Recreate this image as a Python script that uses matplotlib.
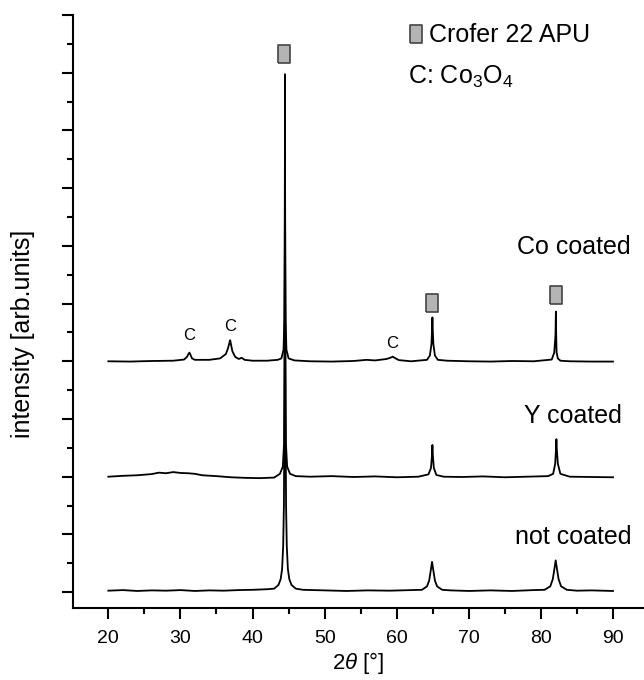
import numpy as np
import matplotlib.pyplot as plt
from matplotlib.ticker import MultipleLocator

plt.rcParams['font.family'] = ['Liberation Sans', 'DejaVu Sans']
plt.rcParams['mathtext.fontset'] = 'custom'
plt.rcParams['mathtext.rm'] = 'Liberation Sans'
plt.rcParams['mathtext.it'] = 'Liberation Sans:italic'
plt.rcParams['mathtext.default'] = 'regular'

# not coated (baseline 0)
nc_x = [20, 22, 24, 26, 28, 30, 32, 34, 36, 38, 40, 42, 43, 43.6, 43.9, 44.1, 44.25, 44.35, 44.42, 44.5,
        44.58, 44.65, 44.75, 44.9, 45.1, 45.4, 46, 47,
        50, 53, 56, 59, 62, 63.5, 64.2, 64.5, 64.75, 64.9, 65.05, 65.3, 65.6, 66.3, 67.5,
        70, 73, 76, 79, 80.5, 81.3, 81.65, 81.9, 82.05, 82.2, 82.45, 82.8, 83.6, 85, 87, 90]
nc_y = [0.05, 0.07, 0.04, 0.06, 0.05, 0.07, 0.04, 0.06, 0.05, 0.07, 0.08, 0.1, 0.12, 0.25, 0.45, 0.8, 1.6, 3.0, 6.0, 12.6,
        6.0, 3.0, 1.6, 0.8, 0.45, 0.25, 0.12, 0.08,
        0.06, 0.04, 0.06, 0.05, 0.07, 0.08, 0.2, 0.4, 0.8, 1.05, 0.8, 0.4, 0.2, 0.08, 0.06,
        0.04, 0.06, 0.04, 0.07, 0.08, 0.2, 0.45, 0.85, 1.1, 0.85, 0.45, 0.2, 0.08, 0.05, 0.06, 0.04]

# Y coated (baseline 4)
yc_x = [20, 22, 24, 26, 27, 28, 29, 30, 31, 32, 33, 35, 37, 39, 41, 43, 43.8, 44.2, 44.38, 44.45, 44.5,
        44.55, 44.62, 44.8, 45.2, 46,
        48, 51, 54, 57, 60, 63, 64.4, 64.75, 64.88, 64.95, 65.02, 65.15, 65.5, 66.5,
        69, 72, 75, 78, 81, 81.7, 81.98, 82.08, 82.15, 82.22, 82.35, 82.7, 84, 87, 90]
yc_y = [4.0, 4.03, 4.05, 4.09, 4.14, 4.12, 4.16, 4.13, 4.12, 4.1, 4.05, 4.02, 3.98, 3.96, 3.95, 3.97, 4.1, 4.35, 5.2, 8.0, 17.0,
        8.0, 5.2, 4.35, 4.1, 4.02,
        4.0, 4.02, 3.99, 4.01, 3.98, 4.0, 4.08, 4.3, 4.7, 5.1, 4.7, 4.3, 4.06, 4.0,
        3.99, 4.01, 3.98, 4.0, 4.02, 4.1, 4.45, 4.9, 5.3, 4.9, 4.45, 4.1, 4.0, 3.99, 3.98]

# Co coated (baseline 8)
cc_x = [20, 23, 26, 29, 30.5, 30.9, 31.1, 31.25, 31.4, 31.6, 32, 34, 35.5, 36.3, 36.6, 36.8, 36.9, 37.0, 37.2, 37.6, 38.1, 38.5, 38.9,
        40, 42, 43.5, 44.0, 44.3, 44.42, 44.48, 44.5, 44.52, 44.58, 44.7, 45.0, 45.8,
        48, 51, 54, 55.8, 57, 58.6, 59.2, 59.45, 59.7, 60.3, 62, 64.2, 64.6, 64.82, 64.9, 64.95, 65.0, 65.08, 65.3, 65.7,
        67, 70, 73, 76, 79, 81.5, 81.85, 82.02, 82.08, 82.12, 82.18, 82.35, 82.7, 84, 87, 90]
cc_y = [8.0, 7.99, 8.01, 8.02, 8.06, 8.15, 8.25, 8.3, 8.22, 8.1, 8.05, 8.05, 8.1, 8.25, 8.45, 8.65, 8.73, 8.6, 8.35, 8.15, 8.08, 8.12, 8.05,
        8.02, 8.02, 8.05, 8.1, 8.4, 9.5, 13.0, 17.95, 13.0, 9.5, 8.4, 8.1, 8.03,
        8.0, 7.99, 8.01, 8.05, 8.03, 8.08, 8.13, 8.16, 8.12, 8.04, 8.0, 8.05, 8.2, 8.6, 9.1, 9.52, 9.1, 8.6, 8.2, 8.05,
        8.02, 8.0, 7.99, 8.01, 8.0, 8.06, 8.3, 8.9, 9.72, 8.9, 8.3, 8.1, 8.02, 8.0, 7.99, 7.99]

# peak markers for Crofer 22 APU
mark_x = [44.4, 64.9, 82.1]
mark_y = [18.65, 10.02, 10.3]

# Co3O4 labels
c_x = [31.2, 36.9, 59.4]
c_y = [8.9, 9.22, 8.63]

label_x = 84.5
label_y = [11.96, 6.1, 1.91]
label_txt = ['Co coated', 'Y coated', 'not coated']

fig = plt.figure(figsize=(6.44, 6.8), dpi=100)
ax = fig.add_axes([0.1134, 0.1059, 0.8866, 0.872])

for xs, ys in [(nc_x, nc_y), (yc_x, yc_y), (cc_x, cc_y)]:
    ax.plot(xs, ys, color='black', lw=1.3)

rect = [(-0.33, -0.5), (0.33, -0.5), (0.33, 0.5), (-0.33, 0.5), (-0.33, -0.5)]
ax.plot(mark_x, mark_y, ls='none', marker=rect, ms=13, mfc='#b4b4b4', mec='#444444', mew=1.2)
ax.plot([62.7], [19.35], ls='none', marker=rect, ms=13, mfc='#b4b4b4', mec='#444444', mew=1.2)
ax.text(64.5, 19.3, 'Crofer 22 APU', fontsize=18, va='center', ha='left')
ax.text(61.6, 17.6, 'C: Co$_3$O$_4$', fontsize=18, va='baseline', ha='left')

for x, y in zip(c_x, c_y):
    ax.text(x, y, 'C', fontsize=12, ha='center', va='center')

for y, t in zip(label_y, label_txt):
    ax.text(label_x, y, t, fontsize=18, ha='center', va='center')

ax.set_xlim(15.1, 94.3)
ax.set_ylim(-0.55, 20)
ax.xaxis.set_minor_locator(MultipleLocator(5))
ax.set_xticks([20, 30, 40, 50, 60, 70, 80, 90])
ax.yaxis.set_major_locator(MultipleLocator(2))
ax.yaxis.set_minor_locator(MultipleLocator(1))
ax.set_yticklabels([])
ax.spines['top'].set_visible(False)
ax.spines['right'].set_visible(False)
for s in ['left', 'bottom']:
    ax.spines[s].set_linewidth(1.5)
ax.tick_params(which='major', length=8, width=1.5, labelsize=14, pad=8)
ax.tick_params(which='minor', length=4.5, width=1.5)
ax.set_xlabel(r'2$\mathit{\theta}$ [°]', fontsize=16, labelpad=2)
ax.set_ylabel('intensity [arb.units]', fontsize=18)
ax.yaxis.set_label_coords(-0.066, 0.462)

fig.savefig('out.png', dpi=100)
